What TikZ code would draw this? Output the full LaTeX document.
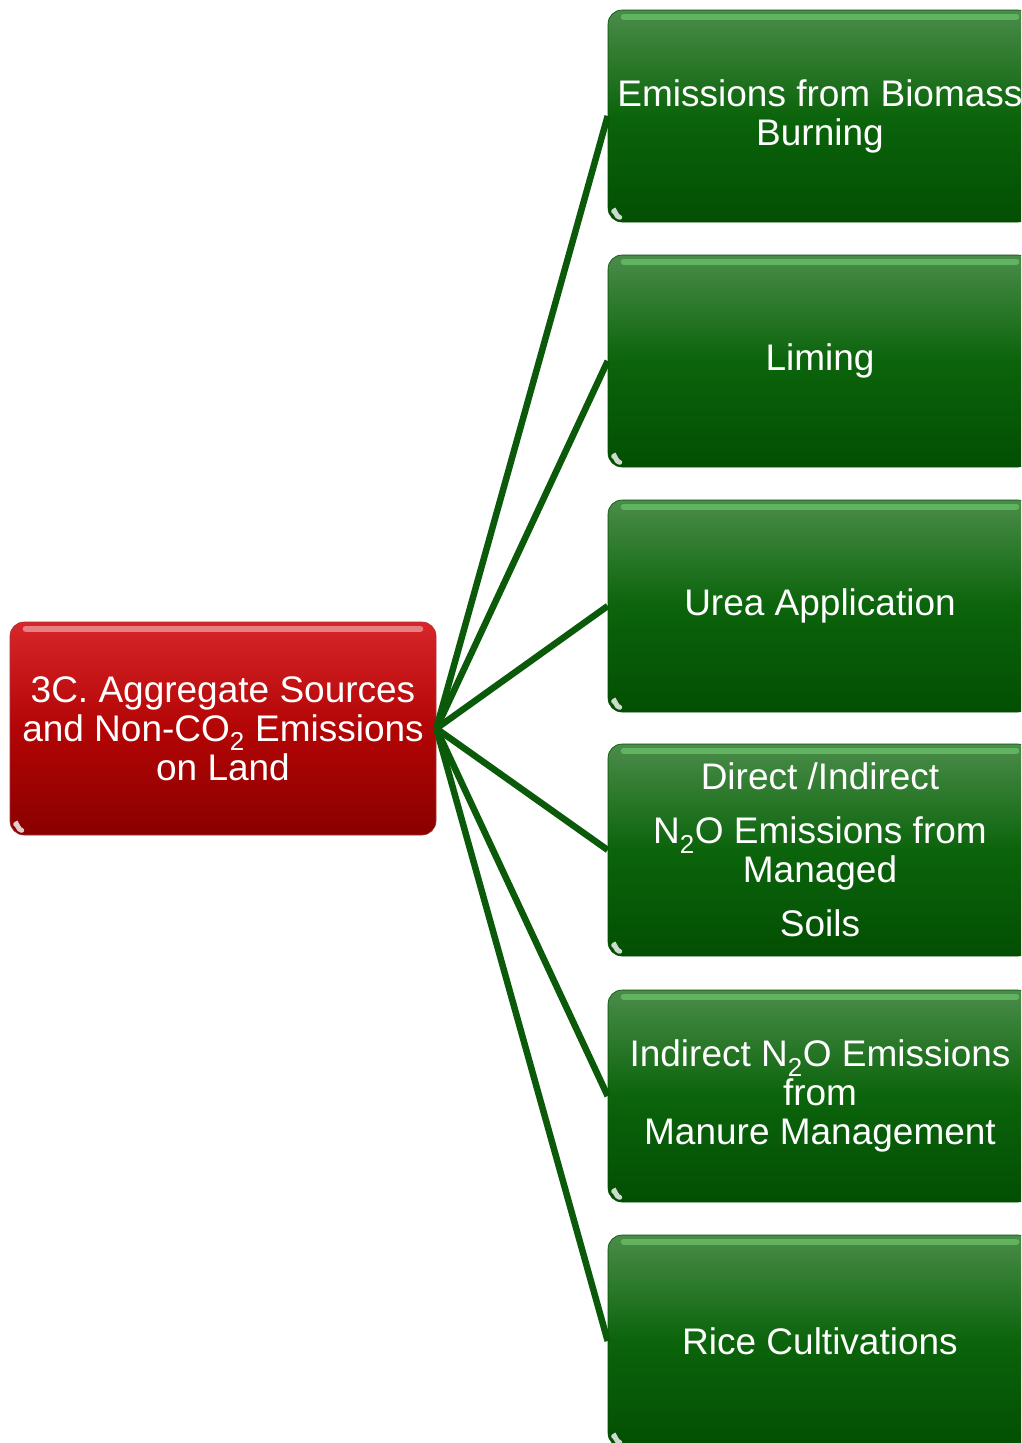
\documentclass[tikz,border=0pt]{standalone}
\usepackage{fontspec}
\setmainfont{Liberation Sans}
\usetikzlibrary{calc}
\definecolor{gtop}{HTML}{4A8C4A}
\definecolor{gmid}{HTML}{0B640B}
\definecolor{gbot}{HTML}{034E03}
\definecolor{rtop}{HTML}{D8262B}
\definecolor{rmid}{HTML}{B30505}
\definecolor{rbot}{HTML}{8A0000}
\definecolor{linkc}{HTML}{0A5A0A}
\begin{document}
\begin{tikzpicture}[x=1pt,y=-1pt,
  boxtext/.style={text=white, align=center, font=\fontsize{37}{39}\selectfont, inner sep=0pt},
  gbox/.style={boxtext, rounded corners=14pt, minimum width=424pt, minimum height=212pt,
    top color=gtop, bottom color=gbot, middle color=gmid, draw=gbot, line width=0.6pt},
  rbox/.style={boxtext, rounded corners=14pt, minimum width=426pt, minimum height=213pt,
    top color=rtop, bottom color=rbot, middle color=rmid, draw=rbot!80!white, line width=0.6pt},
  link/.style={draw=linkc, line width=6.5pt},
  gtopgloss/.style={line width=6pt, draw=#1, opacity=0.6, line cap=round},
  cornergloss/.style={line width=5pt, draw=white, opacity=0.8, line cap=round}
]
\useasboundingbox (0,0) rectangle (1021,1443);
\clip (0,0) rectangle (1021,1443);

\node[rbox] (src) at (223,728.5) {3C. Aggregate Sources\\and Non-CO\textsubscript{2} Emissions\\on Land};

\node[gbox] (g1) at (820,116) {Emissions from Biomass\\Burning};
\node[gbox] (g2) at (820,361) {Liming};
\node[gbox] (g3) at (820,606) {Urea Application};
\node[gbox] (g4) at (820,850) {Direct /Indirect\\[15pt]N\textsubscript{2}O Emissions from\\Managed\\[15pt]Soils};
\node[gbox] (g5) at (820,1096) {Indirect N\textsubscript{2}O Emissions\\from\\Manure Management};
\node[gbox] (g6) at (820,1341) {Rice Cultivations};

% gloss
\foreach \n in {g1,g2,g3,g4,g5,g6}{
  \draw[gtopgloss=white!55!green!60!gtop] ($(\n.north west)+(16,7)$) -- ($(\n.north east)+(-16,7)$);
  \draw[cornergloss] ($(\n.south west)+(6,-11)$) to[out=80,in=190] ($(\n.south west)+(12,-5)$);
}
\draw[gtopgloss=white!70!rtop] ($(src.north west)+(16,7)$) -- ($(src.north east)+(-16,7)$);
\draw[cornergloss] ($(src.south west)+(6,-11)$) to[out=80,in=190] ($(src.south west)+(12,-5)$);

\coordinate (hub) at (src.east);
\foreach \n in {g1,g2,g3,g4,g5,g6}{
  \draw[link] (hub) -- (\n.west);
}
\end{tikzpicture}
\end{document}
